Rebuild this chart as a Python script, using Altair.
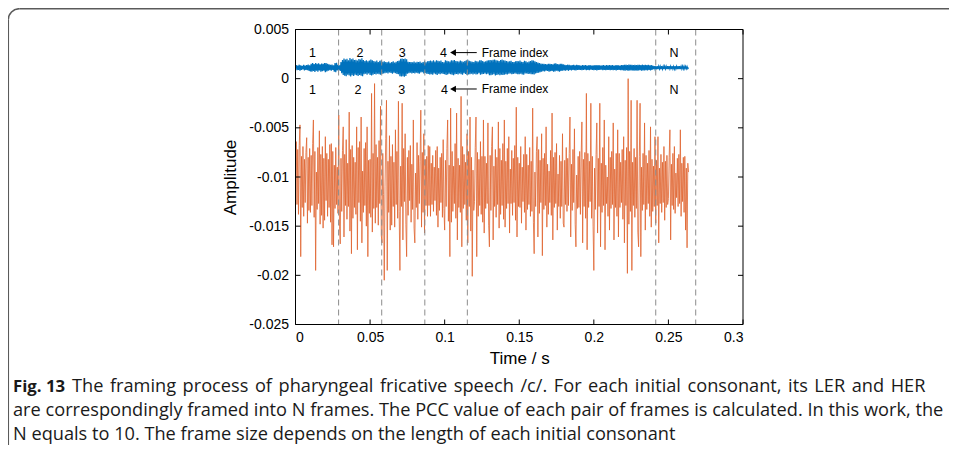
import altair as alt
import pandas as pd

# ---------------- data ----------------
# samples every 0.5 ms; values in units of 1e-3
step_ms = 0.5

# HER signal (orange)
orange_mv = [
    -9.0, -6.4, -12.8, -7.2, -13.8, -6.8, -4.7, -18.1, -7.9, -13.1, -6.9, -14.0, -8.2, -12.6, -7.5, -6.0, -14.7, -8.0, -13.4, -7.1,
    -13.6, -7.8, -12.9, -6.6, -4.2, -14.1, -7.4, -19.5, -9.5, -13.3, -7.0, -12.7, -5.3, -14.8, -7.7, -13.9, -6.9, -15.2, -8.1, -14.4,
    -5.9, -12.4, -7.6, -14.0, -8.2, -13.1, -6.7, -14.6, -6.6, -16.9, -7.4, -17.1, -8.8, -13.2, -7.0, -12.8, -9.0, -13.7, -3.7, -15.0,
    -16.8, -8.1, -13.5, -7.3, -4.9, -16.1, -7.7, -12.9, -6.2, -14.3, -8.6, -13.0, -3.4, -15.5, -7.2, -17.8, -6.8, -14.2, -8.0, -13.1,
    -8.5, -13.8, -4.9, -17.4, -7.0, -12.6, -6.4, -14.5, -3.9, -16.7, -9.4, -13.6, -7.1, -12.9, -6.5, -15.0, -4.9, -18.1, -8.3, -13.7,
    -8.2, -14.1, -1.5, -15.6, -7.6, -13.2, -0.5, -14.7, -6.7, -13.1, -8.0, -14.9, -6.3, -12.7, -2.8, -15.9, -16.7, -7.6, -11.8, -20.5,
    -11.0, -6.1, -2.2, -19.5, -8.4, -13.6, -5.8, -15.4, -7.9, -14.9, -6.7, -13.0, -8.5, -15.1, -5.2, -12.8, -7.4, -14.2, -2.3, -13.5,
    -19.5, -8.9, -13.0, -2.5, -16.4, -7.1, -12.5, -5.6, -14.8, -18.1, -8.0, -13.9, -7.3, -12.4, -6.8, -14.6, -8.7, -13.3, -4.2, -15.2,
    -16.7, -9.6, -13.1, -6.5, -14.3, -7.8, -12.7, -8.4, -3.2, -15.1, -7.5, -13.6, -5.6, -15.7, -8.2, -12.9, -7.9, -14.0, -6.8, -12.9,
    -6.9, -14.0, -8.6, -12.8, -7.8, -13.5, -9.0, -12.4, -7.3, -13.9, -6.9, -15.1, -9.1, -13.4, -8.0, -12.6, -7.6, -14.1, -6.2, -13.2,
    -15.4, -8.3, -13.0, -7.1, -4.2, -14.5, -8.8, -18.1, -3.0, -14.6, -7.4, -13.5, -8.9, -12.7, -6.6, -14.2, -3.5, -16.4, -8.1, -13.1,
    -8.8, -13.6, -1.8, -17.1, -6.9, -13.2, -7.7, -12.8, -8.5, -14.4, -5.6, -16.7, -7.4, -13.0, -3.9, -15.5, -8.0, -20.1, -9.3, -13.4,
    -12.5, -7.0, -3.9, -18.1, -7.5, -14.0, -8.2, -12.9, -6.4, -13.8, -7.9, -14.6, -4.2, -15.7, -7.9, -13.2, -8.6, -12.7, -4.5, -14.9,
    -17.1, -7.8, -13.4, -6.9, -4.9, -16.4, -8.9, -13.0, -7.2, -14.1, -8.0, -12.8, -4.4, -15.2, -7.1, -13.8, -8.3, -12.9, -6.6, -14.3,
    -4.2, -15.1, -8.4, -13.2, -7.1, -12.7, -5.9, -15.7, -9.2, -12.7, -7.3, -13.9, -8.1, -12.6, -6.8, -14.4, -2.9, -16.1, -8.0, -13.0,
    -8.6, -13.1, -6.9, -14.7, -9.0, -12.5, -7.7, -13.6, -5.9, -15.4, -7.7, -13.3, -8.8, -12.8, -7.0, -14.0, -8.4, -13.5, -3.0, -14.6,
    -17.8, -9.5, -13.0, -7.4, -5.9, -16.1, -7.2, -13.7, -8.3, -12.6, -5.6, -18.0, -8.1, -13.3, -7.6, -12.9, -4.9, -15.1, -8.7, -13.8,
    -9.4, -12.6, -7.3, -13.9, -3.5, -16.4, -8.0, -13.1, -7.5, -12.7, -6.6, -15.4, -9.7, -13.0, -7.8, -14.2, -8.4, -13.0, -5.6, -14.7,
    -15.1, -8.3, -12.8, -7.0, -13.5, -8.1, -12.9, -7.6, -3.9, -16.1, -8.7, -13.4, -7.2, -12.6, -5.1, -14.8, -17.1, -9.8, -13.2, -7.9,
    -13.1, -7.4, -13.8, -8.0, -4.4, -16.7, -8.2, -13.0, -7.5, -14.2, -1.5, -17.4, -7.6, -13.1, -8.4, -12.5, -2.5, -14.2, -7.9, -15.0,
    -19.5, -9.1, -13.3, -7.7, -4.5, -15.7, -8.1, -13.0, -2.5, -17.1, -8.6, -13.6, -7.0, -12.9, -4.2, -17.4, -8.8, -12.7, -10.0, -14.0,
    -5.9, -15.4, -8.0, -13.2, -7.4, -12.8, -4.5, -16.4, -9.2, -13.1, -7.6, -14.0, -5.2, -16.1, -7.6, -13.1, -8.5, -12.6, -7.2, -14.3,
    -5.9, -16.7, -8.3, -12.9, -7.0, -19.8, 0.0, -14.8, -7.4, -13.5, -2.2, -19.5, -8.5, -12.9, -7.1, -14.1, -8.0, -13.2, -2.2, -15.6,
    -17.1, -7.9, -2.5, -18.1, -9.0, -13.4, -7.6, -12.8, -4.5, -15.4, -7.8, -13.3, -8.6, -12.7, -7.3, -14.0, -4.9, -15.1, -8.2, -13.5,
    -8.9, -13.0, -5.9, -14.7, -8.3, -12.9, -5.9, -16.7, -9.1, -12.7, -7.7, -13.6, -8.5, -12.6, -6.9, -14.4, -8.4, -13.1, -7.8, -12.8,
    -12.2, -8.0, -5.2, -16.4, -8.7, -12.9, -7.6, -13.3, -6.9, -13.7, -9.6, -12.1, -8.1, -13.0, -7.7, -12.7, -5.2, -14.0, -8.6, -12.5,
    -8.0, -13.6, -7.9, -15.4, -9.1, -17.2, -8.6, -9.5,
]

# LER signal (blue)
blue_mv = [
    1.12, 1.38, 0.86, 1.34, 0.90, 1.42, 0.82, 1.36, 0.88, 1.30, 0.94, 1.40, 0.84, 1.33, 0.90, 1.38, 0.86, 1.44, 0.80, 1.35,
    0.74, 1.52, 0.70, 1.58, 0.78, 1.48, 0.68, 1.60, 0.80, 1.50, 0.72, 1.56, 0.84, 1.46, 0.70, 1.54, 0.76, 1.50, 0.82, 1.58,
    0.66, 1.60, 0.74, 1.52, 0.80, 1.46, 0.86, 1.40, 0.82, 1.44, 0.88, 1.36, 0.70, 1.58, 0.66, 1.62, 0.84, 1.40, 0.90, 1.36,
    0.78, 1.70, 0.55, 1.90, 0.38, 2.05, 0.30, 1.95, 0.25, 2.02, 0.40, 1.88, 0.32, 2.10, 0.22, 1.98, 0.35, 2.05, 0.28, 1.90,
    0.40, 1.92, 0.34, 1.85, 0.28, 2.00, 0.38, 1.95, 0.30, 2.08, 0.26, 1.90, 0.44, 1.80, 0.50, 1.88, 0.40, 1.78, 0.52, 1.85,
    0.38, 1.95, 0.32, 1.88, 0.40, 1.80, 0.48, 1.75, 0.42, 1.85, 0.50, 1.70, 0.45, 1.82, 0.40, 1.88, 0.48, 1.72, 0.52, 1.78,
    0.55, 1.70, 0.60, 1.66, 0.52, 1.74, 0.62, 1.62, 0.58, 1.70, 0.50, 1.76, 0.60, 1.64, 0.56, 1.72, 0.48, 1.80, 0.45, 1.85,
    0.26, 2.02, 0.22, 2.05, 0.24, 2.00, 0.20, 2.04, 0.28, 1.96, 0.50, 1.72, 0.56, 1.68, 0.60, 1.70, 0.54, 1.66, 0.58, 1.74,
    0.52, 1.64, 0.60, 1.72, 0.55, 1.68, 0.50, 1.75, 0.62, 1.62, 0.66, 1.70, 0.52, 1.76, 0.58, 1.66, 0.50, 1.78, 0.48, 1.80,
    0.42, 1.84, 0.46, 1.78, 0.40, 1.86, 0.52, 1.74, 0.44, 1.88, 0.38, 1.82, 0.50, 1.76, 0.46, 1.84, 0.52, 1.70, 0.48, 1.66,
    0.45, 1.86, 0.38, 1.82, 0.42, 1.78, 0.50, 1.74, 0.46, 1.88, 0.40, 1.84, 0.36, 1.90, 0.44, 1.80, 0.48, 1.76, 0.42, 1.74,
    0.52, 1.84, 0.44, 1.78, 0.40, 1.72, 0.56, 1.80, 0.48, 1.86, 0.38, 1.92, 0.42, 1.82, 0.46, 1.76, 0.50, 1.72, 0.44, 1.70,
    0.50, 1.82, 0.42, 1.76, 0.46, 1.74, 0.56, 1.86, 0.40, 1.88, 0.44, 1.80, 0.48, 1.72, 0.52, 1.78, 0.46, 1.84, 0.50, 1.86,
    0.36, 1.90, 0.34, 1.86, 0.40, 1.92, 0.44, 1.95, 0.32, 1.88, 0.38, 1.84, 0.42, 1.80, 0.36, 1.90, 0.40, 1.94, 0.38, 1.88,
    0.40, 1.85, 0.44, 1.80, 0.42, 1.74, 0.50, 1.78, 0.54, 1.82, 0.46, 1.70, 0.48, 1.68, 0.52, 1.76, 0.50, 1.80, 0.46, 1.78,
    0.46, 1.84, 0.50, 1.72, 0.44, 1.70, 0.40, 1.82, 0.52, 1.78, 0.54, 1.66, 0.48, 1.74, 0.50, 1.80, 0.46, 1.86, 0.44, 1.84,
    0.42, 1.76, 0.52, 1.70, 0.58, 1.64, 0.60, 1.58, 0.66, 1.54, 0.72, 1.52, 0.76, 1.50, 0.74, 1.48, 0.80, 1.46, 0.78, 1.50,
    0.72, 1.52, 0.76, 1.48, 0.78, 1.45, 0.70, 1.54, 0.74, 1.55, 0.80, 1.48, 0.76, 1.46, 0.72, 1.50, 0.78, 1.52, 0.80, 1.47,
    0.84, 1.40, 0.82, 1.38, 0.86, 1.42, 0.80, 1.40, 0.88, 1.36, 0.84, 1.38, 0.90, 1.40, 0.86, 1.36, 0.84, 1.41, 0.88, 1.37,
    0.88, 1.36, 0.90, 1.34, 0.86, 1.38, 0.88, 1.35, 0.92, 1.37, 0.87, 1.33, 0.90, 1.36, 0.86, 1.38, 0.91, 1.34, 0.88, 1.36,
    0.87, 1.36, 0.90, 1.38, 0.85, 1.35, 0.89, 1.37, 0.88, 1.33, 0.91, 1.36, 0.86, 1.38, 0.89, 1.34, 0.87, 1.37, 0.90, 1.35,
    0.88, 1.37, 0.86, 1.35, 0.90, 1.38, 0.87, 1.34, 0.89, 1.36, 0.85, 1.39, 0.88, 1.36, 0.90, 1.33, 0.87, 1.37, 0.86, 1.38,
    0.84, 1.40, 0.82, 1.42, 0.86, 1.38, 0.80, 1.43, 0.84, 1.40, 0.83, 1.41, 0.85, 1.39, 0.81, 1.42, 0.84, 1.38, 0.82, 1.40,
    0.83, 1.41, 0.86, 1.38, 0.82, 1.42, 0.85, 1.37, 0.84, 1.40, 0.86, 1.39, 0.83, 1.41, 0.88, 1.36, 0.85, 1.38, 0.90, 1.33,
    0.96, 1.28, 0.98, 1.26, 0.95, 1.28, 0.97, 1.27, 0.99, 1.25, 0.96, 1.28, 0.98, 1.26, 0.97, 1.27, 0.99, 1.26, 0.96, 1.28,
    0.97, 1.27, 0.98, 1.26, 0.96, 1.28, 0.99, 1.25, 0.97, 1.27, 0.98, 1.26, 0.96, 1.28, 0.98, 1.27, 0.97, 1.26, 0.99, 1.27,
    0.98, 1.26, 0.99, 1.25, 1.00, 1.24, 1.02, 1.12,
]

frame_bounds = [0.0289, 0.0578, 0.0867, 0.1152, 0.2415, 0.2683]

x_ticks = [0, 0.05, 0.1, 0.15, 0.2, 0.25, 0.3]
y_ticks = [-0.025, -0.02, -0.015, -0.01, -0.005, 0, 0.005]

label_text = ["1", "2", "3", "4", "N"]
label_x_top = [0.0113, 0.0432, 0.0716, 0.0992, 0.2537]
label_x_bottom = [0.0113, 0.0419, 0.0712, 0.0998, 0.2537]
label_y_top = 0.0026
label_y_bottom = -0.0012

arrow_x_start = 0.1056
arrow_x_end = 0.1215
arrow_y = [0.00265, -0.00105]
arrow_text = "Frame index"
arrow_text_x = 0.1248

x_title = "Time / s"
y_title = "Amplitude"

caption_bold = "Fig. 13"
caption_lines = [
    "The framing process of pharyngeal fricative speech /c/. For each initial consonant, its LER and HER",
    "are correspondingly framed into N frames. The PCC value of each pair of frames is calculated. In this work, the",
    "N equals to 10. The frame size depends on the length of each initial consonant",
]

# ---------------- tables ----------------
her_df = pd.DataFrame({"t": [i * step_ms / 1000 for i in range(len(orange_mv))],
                       "v": [v / 1000 for v in orange_mv]})
ler_df = pd.DataFrame({"t": [i * step_ms / 1000 for i in range(len(blue_mv))],
                       "v": [v / 1000 for v in blue_mv]})
bounds_df = pd.DataFrame({"x": frame_bounds})
labels_df = pd.DataFrame({
    "x": label_x_top + label_x_bottom,
    "y": [label_y_top] * 5 + [label_y_bottom] * 5,
    "txt": label_text + label_text,
})
arrow_df = pd.DataFrame({
    "x": [arrow_x_start] * 2,
    "x2": [arrow_x_end] * 2,
    "y": arrow_y,
    "tx": [arrow_text_x] * 2,
    "txt": [arrow_text] * 2,
})
xt_df = pd.DataFrame({"x": x_ticks})
yt_df = pd.DataFrame({"y": y_ticks})
one = pd.DataFrame({"k": [0]})

W, H = 447.5, 295
FONT = "Liberation Sans"
CAP_FONT = "Open Sans"
CAP_SIZE = 18.2

xs = alt.Scale(domain=[0, 0.3], nice=False, zero=False)
ys = alt.Scale(domain=[-0.025, 0.005], nice=False, zero=False)

xaxis = alt.Axis(values=x_ticks, labelExpr="toString(datum.value)", ticks=False,
                 domain=False, grid=False, labelPadding=6, title=x_title,
                 titlePadding=6)
yaxis = alt.Axis(values=y_ticks, labelExpr="toString(datum.value)", ticks=False,
                 domain=False, grid=False, labelPadding=7, title=y_title,
                 titlePadding=9)

orange = alt.Chart(her_df).mark_line(color="#E0642F", strokeWidth=1.0, opacity=0.8).encode(
    x=alt.X("t:Q", scale=xs, axis=xaxis),
    y=alt.Y("v:Q", scale=ys, axis=yaxis),
)
blue = alt.Chart(ler_df).mark_line(color="#0072BD", strokeWidth=1.2).encode(
    x=alt.X("t:Q", scale=xs),
    y=alt.Y("v:Q", scale=ys),
)
dashed = alt.Chart(bounds_df).mark_rule(color="#8c8c8c", strokeWidth=1, strokeDash=[6, 4]).encode(
    x=alt.X("x:Q", scale=xs), y=alt.value(0), y2=alt.value(H)
)
labels = alt.Chart(labels_df).mark_text(font=FONT, fontSize=12.5, color="black").encode(
    x=alt.X("x:Q", scale=xs), y=alt.Y("y:Q", scale=ys), text="txt:N"
)
arrow_shaft = alt.Chart(arrow_df).mark_rule(color="black", strokeWidth=1).encode(
    x=alt.X("x:Q", scale=xs), x2="x2:Q", y=alt.Y("y:Q", scale=ys)
)
arrow_head = alt.Chart(arrow_df).mark_point(shape="triangle-left", filled=True, size=45,
                                            color="black", opacity=1).encode(
    x=alt.X("x:Q", scale=xs), y=alt.Y("y:Q", scale=ys)
)
arrow_lbl = alt.Chart(arrow_df).mark_text(font=FONT, fontSize=12, align="left", color="black").encode(
    x=alt.X("tx:Q", scale=xs), y=alt.Y("y:Q", scale=ys), text="txt:N"
)

tick_len = 5
xt_bot = alt.Chart(xt_df).mark_rule(color="black").encode(
    x=alt.X("x:Q", scale=xs), y=alt.value(H), y2=alt.value(H - tick_len))
xt_top = alt.Chart(xt_df).mark_rule(color="black").encode(
    x=alt.X("x:Q", scale=xs), y=alt.value(0), y2=alt.value(tick_len))
yt_left = alt.Chart(yt_df).mark_rule(color="black").encode(
    y=alt.Y("y:Q", scale=ys), x=alt.value(0), x2=alt.value(tick_len))
yt_right = alt.Chart(yt_df).mark_rule(color="black").encode(
    y=alt.Y("y:Q", scale=ys), x=alt.value(W), x2=alt.value(W - tick_len))

# plot-area box (drawn as a mark instead of the view stroke)
plot_box = alt.Chart(one).mark_rect(fillOpacity=0, stroke="black", strokeWidth=1).encode(
    x=alt.value(0), x2=alt.value(W), y=alt.value(0), y2=alt.value(H))

# figure frame: top and left edges with a rounded top-left corner
BX, BY, R = -287.2, -20.8, 11
border_color = "#5a5a5a"
border_top = alt.Chart(one).mark_rule(color=border_color, strokeWidth=1.5).encode(
    x=alt.value(BX + R), x2=alt.value(660), y=alt.value(BY))
border_left = alt.Chart(one).mark_rule(color=border_color, strokeWidth=1.5).encode(
    x=alt.value(BX), y=alt.value(BY + R), y2=alt.value(440))
border_corner = alt.Chart(one).mark_arc(
    color=border_color, theta=4.7124, theta2=6.2832, radius=R + 0.75, radius2=R - 0.75
).encode(x=alt.value(BX + R), y=alt.value(BY + R))

HS = " \u200a"  # justified spacing on the first caption line

def cap(text, x, y, bold=False, size=CAP_SIZE):
    return alt.Chart(one).mark_text(
        text=text, font=CAP_FONT, fontSize=size,
        fontWeight="bold" if bold else "normal", align="left", baseline="middle",
        color="#1a1a1a").encode(x=alt.value(x), y=alt.value(y))

cap_layers = [
    cap(caption_bold, -282.5, 357, bold=True, size=16.8),
    cap(caption_lines[0].replace(" ", HS), -223.5, 357),
    cap(caption_lines[1], -282.5, 381.5),
    cap(caption_lines[2], -282.5, 405.5),
]

chart = alt.layer(
    orange, blue, dashed, labels, arrow_shaft, arrow_head, arrow_lbl,
    xt_bot, xt_top, yt_left, yt_right, plot_box,
    border_top, border_left, border_corner, *cap_layers
).properties(
    width=W, height=H,
    autosize=alt.AutoSizeParams(type="none"),
    padding={"left": 287.5, "top": 21.5, "right": 206, "bottom": 120},
).configure(
    background="white"
).configure_view(
    strokeOpacity=0, strokeWidth=0
).configure_axis(
    labelFont=FONT, labelFontSize=14, labelColor="black",
    titleFont=FONT, titleFontSize=17, titleFontWeight="normal", titleColor="black",
)

chart.save("out.html", embed_options={"renderer": "svg", "actions": False})
